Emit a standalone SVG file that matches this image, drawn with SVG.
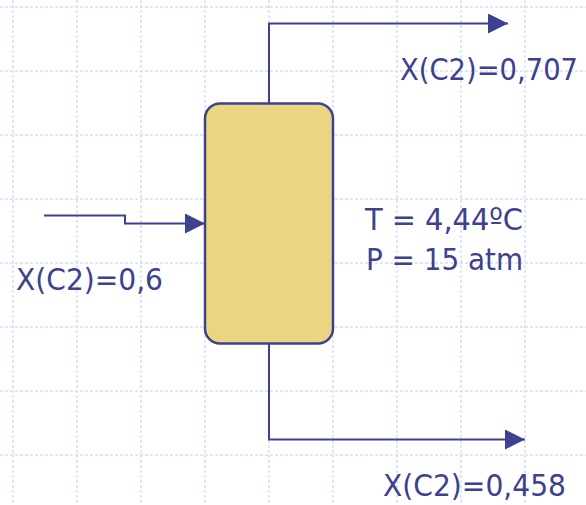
<svg xmlns="http://www.w3.org/2000/svg" width="586" height="505" viewBox="0 0 586 505">
<style>
.grid{stroke:#d3def9;stroke-width:1.5;stroke-dasharray:3 2;fill:none}
.conn{stroke:#3d4190;stroke-width:2;fill:none}
.lbl{font-family:"DejaVu Sans Condensed","DejaVu Sans",sans-serif;font-stretch:condensed;font-size:31px;fill:#3d4190}
</style>
<defs>
<marker id="arr" viewBox="0 0 20 20" refX="20" refY="10" markerWidth="20" markerHeight="20" markerUnits="userSpaceOnUse" orient="auto">
<path d="M0,0 L20,10 L0,20 Z" fill="#3d4190"/>
</marker>
</defs>
<rect width="586" height="505" fill="#ffffff"/>
<g id="grid" class="grid">
<path d="M13,0V505M77,0V505M141,0V505M205,0V505M269,0V505M333,0V505M397,0V505M461,0V505M525,0V505"/>
<path d="M0,7H586M0,71H586M0,135H586M0,199H586M0,263H586M0,327H586M0,391H586M0,455H586"/>
</g>
<g id="connectors">
<path class="conn" d="M269,103V23.5H508" marker-end="url(#arr)"/>
<path class="conn" d="M44,215.5H125V223.5H205" marker-end="url(#arr)"/>
<path class="conn" d="M269,343V439.5H525" marker-end="url(#arr)"/>
</g>
<g id="column">
<rect x="205" y="103.5" width="128" height="240" rx="15" ry="15" fill="#ead583" stroke="#3d4190" stroke-width="2.5"/>
</g>
<g id="labels">
<text class="lbl" x="400" y="80" textLength="178" lengthAdjust="spacingAndGlyphs">X(C2)=0,707</text>
<text class="lbl" x="365" y="230" textLength="158" lengthAdjust="spacingAndGlyphs">T = 4,44ºC</text>
<text class="lbl" x="366" y="270" textLength="157" lengthAdjust="spacingAndGlyphs">P = 15 atm</text>
<text class="lbl" x="16" y="290" textLength="147" lengthAdjust="spacingAndGlyphs">X(C2)=0,6</text>
<text class="lbl" x="383" y="496" textLength="183" lengthAdjust="spacingAndGlyphs">X(C2)=0,458</text>
</g>
</svg>
